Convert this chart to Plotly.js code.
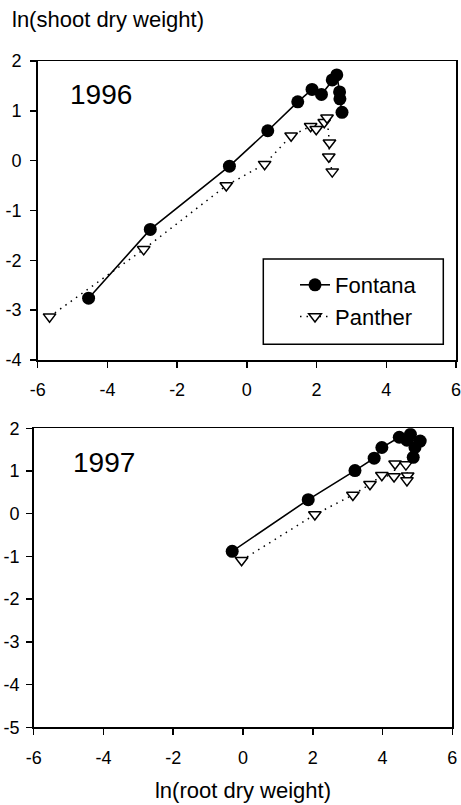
<!DOCTYPE html>
<html>
<head>
<meta charset="utf-8">
<script src="https://cdn.plot.ly/plotly-3.0.1.min.js"></script>
<style>html,body{margin:0;padding:0;background:#fff;}#chart{width:461px;height:805px;}</style>
</head>
<body>
<div id="chart"></div>
<script>
// 1996
const fontana96X = [-4.54, -2.77, -0.50, 0.60, 1.46, 1.87, 2.14, 2.45, 2.58, 2.66, 2.67, 2.73];
const fontana96Y = [-2.76, -1.38, -0.11, 0.60, 1.18, 1.43, 1.33, 1.62, 1.72, 1.38, 1.24, 0.97];
const panther96X = [-5.66, -2.96, -0.59, 0.51, 1.27, 1.83, 1.99, 2.22, 2.30, 2.37, 2.35, 2.45];
const panther96Y = [-3.13, -1.78, -0.50, -0.07, 0.50, 0.69, 0.63, 0.77, 0.86, 0.36, 0.08, -0.22];
// 1997
const fontana97X = [-0.31, 1.87, 3.21, 3.76, 3.98, 4.48, 4.80, 4.70, 5.08, 4.93, 4.88];
const fontana97Y = [-0.88, 0.33, 1.01, 1.30, 1.55, 1.79, 1.86, 1.72, 1.70, 1.55, 1.32];
const panther97X = [-0.04, 2.06, 3.15, 3.64, 3.98, 4.33, 4.36, 4.67, 4.72, 4.70];
const panther97Y = [-1.09, -0.02, 0.44, 0.69, 0.90, 0.87, 1.17, 1.15, 0.89, 0.78];

const seriesNames = ["Fontana", "Panther"];
const yearLabels = ["1996", "1997"];
const xTicks = [-6, -4, -2, 0, 2, 4, 6];
const yTicksTop = [-4, -3, -2, -1, 0, 1, 2];
const yTicksBottom = [-5, -4, -3, -2, -1, 0, 1, 2];
const yTitle = "ln(shoot dry weight)";
const xTitle = "ln(root dry weight)";

const FONT = "Arial, 'Liberation Sans', sans-serif";
const W = 461, H = 805;

const fontanaStyle = {
  mode: "lines+markers",
  line: {color: "black", width: 1.6},
  marker: {symbol: "circle", size: 13, color: "black"}
};
const pantherStyle = {
  mode: "lines+markers",
  line: {color: "black", width: 1.5, dash: "1.5px,5px"},
  marker: {symbol: "triangle-down", size: 11, color: "white", line: {color: "black", width: 1.5}}
};

const traces = [
  Object.assign({x: panther96X, y: panther96Y, name: seriesNames[1], xaxis: "x", yaxis: "y", legendrank: 2}, pantherStyle),
  Object.assign({x: fontana96X, y: fontana96Y, name: seriesNames[0], xaxis: "x", yaxis: "y", legendrank: 1}, fontanaStyle),
  Object.assign({x: panther97X, y: panther97Y, name: seriesNames[1], xaxis: "x2", yaxis: "y2", showlegend: false}, pantherStyle),
  Object.assign({x: fontana97X, y: fontana97Y, name: seriesNames[0], xaxis: "x2", yaxis: "y2", showlegend: false}, fontanaStyle)
];

function axisBase(ticks, extra) {
  return Object.assign({
    showline: true, mirror: true, linecolor: "black", linewidth: 1.5,
    ticks: "outside", ticklen: 6, tickwidth: 1.5, tickcolor: "black",
    showgrid: false, zeroline: false,
    tickmode: "array", tickvals: ticks, ticktext: ticks.map(String),
    tickfont: {family: FONT, size: 18, color: "black"},
    ticklabeloverflow: "allow",
    fixedrange: true
  }, extra);
}

const layout = {
  width: W, height: H,
  margin: {l: 0, r: 0, t: 0, b: 0},
  paper_bgcolor: "white", plot_bgcolor: "white",
  font: {family: FONT, color: "black"},
  showlegend: true,
  legend: {
    x: 295 / W, y: 1 - 264 / H, xanchor: "left", yanchor: "top",
    bgcolor: "rgba(0,0,0,0)", borderwidth: 0,
    font: {family: FONT, size: 22, color: "black"},
    traceorder: "normal"
  },
  shapes: [
    {type: "rect", xref: "paper", yref: "paper",
     x0: 263.3 / W, x1: 443.3 / W, y0: 1 - 344.3 / H, y1: 1 - 259 / H,
     line: {color: "black", width: 1.5}, fillcolor: "white", layer: "above"}
  ],
  xaxis: axisBase(xTicks, {domain: [37.7 / W, 456 / W], range: [-6, 6], anchor: "y", ticklabelstandoff: 7}),
  yaxis: axisBase(yTicksTop, {domain: [1 - 360 / H, 1 - 61 / H], range: [-4, 2], anchor: "x", ticklabelstandoff: 5}),
  xaxis2: axisBase(xTicks, {domain: [33.7 / W, 452.3 / W], range: [-6, 6], anchor: "y2", ticklabelstandoff: 8,
    title: {text: xTitle, font: {family: FONT, size: 22, color: "black"}, standoff: 15}}),
  yaxis2: axisBase(yTicksBottom, {domain: [1 - 727.3 / H, 1 - 428.3 / H], range: [-5, 2], anchor: "x2", ticklabelstandoff: 3}),
  annotations: [
    {text: yTitle, xref: "paper", yref: "paper", x: 10 / W, y: 1 - 19 / H, xanchor: "left", yanchor: "middle",
     showarrow: false, font: {family: FONT, size: 22, color: "black"}},
    {text: yearLabels[0], xref: "x", yref: "y", x: -4.17, y: 1.32, showarrow: false,
     font: {family: FONT, size: 28, color: "black"}},
    {text: yearLabels[1], xref: "x2", yref: "y2", x: -3.99, y: 1.21, showarrow: false,
     font: {family: FONT, size: 28, color: "black"}}
  ]
};

Plotly.newPlot("chart", traces, layout, {displayModeBar: false, staticPlot: true});
</script>
</body>
</html>
